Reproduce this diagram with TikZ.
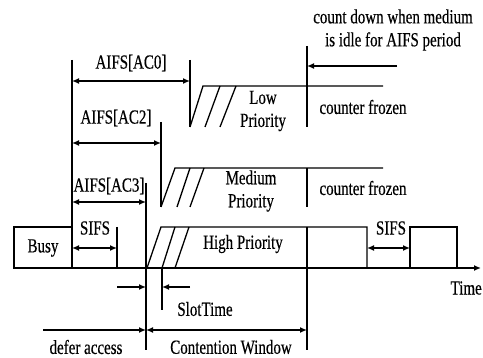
\documentclass[tikz,border=0pt]{standalone}
\usepackage{fontspec}
\setmainfont{Liberation Serif}[FakeStretch=0.75,FakeBold=0.4]
\usetikzlibrary{arrows.meta}
\begin{document}
\begin{tikzpicture}[x=1pt,y=-1pt,line width=1.3pt,
  lbl/.style={inner sep=0pt,font=\fontsize{20}{23}\selectfont,align=center},
  tip/.style={-{Latex[length=7pt,width=6pt]}},
  dtip/.style={{Latex[length=7pt,width=6pt]}-{Latex[length=7pt,width=6pt]}}]
\useasboundingbox (0,0) rectangle (483,358);
% coordinates
\coordinate (b0) at (14,268); \coordinate (bE) at (481,268);
\coordinate (vAt) at (72,60); \coordinate (vAb) at (72,268);
\coordinate (vBt) at (190,60); \coordinate (vBb) at (190,127);
\coordinate (vCt) at (161,122); \coordinate (vCb) at (161,207);
\coordinate (vDt) at (146,183); \coordinate (vDb) at (146,350);
\coordinate (sifsT) at (117,227); \coordinate (sifsB) at (117,268);
\coordinate (st1) at (162,268); \coordinate (st2) at (162,310);
% timeline
\draw[tip] (b0) -- (bE);
\node[lbl,anchor=west] (time) at (450,288) {Time};
% busy box
\draw (14,268) rectangle (72,227);
\node[lbl] (busy) at (43,248) {Busy};
% verticals
\draw (vAt) -- (vAb);
\draw (vBt) -- (vBb);
\draw (vCt) -- (vCb);
\draw (vDt) -- (vDb);
\draw (sifsT) -- (sifsB);
\draw (st1) -- (st2);
% AIFS arrows
\coordinate (a0l) at (72,81); \coordinate (a0r) at (190,81);
\draw[dtip] (a0l) -- (a0r);
\node[lbl] (ac0) at (131,63) {AIFS[AC0]};
\coordinate (a2l) at (72,143); \coordinate (a2r) at (161,143);
\draw[dtip] (a2l) -- (a2r);
\node[lbl] (ac2) at (116,118) {AIFS[AC2]};
\coordinate (a3l) at (72,202); \coordinate (a3r) at (146,202);
\draw[dtip] (a3l) -- (a3r);
\node[lbl] (ac3) at (109,186) {AIFS[AC3]};
\coordinate (s1l) at (72,248); \coordinate (s1r) at (117,248);
\draw[dtip] (s1l) -- (s1r);
\node[lbl] (sifs1) at (95,228) {SIFS};
% low priority
\draw (190,127) -- (203,86) -- (383,86);
\draw (205,127) -- (220,86);
\draw (220,127) -- (236,86);
\coordinate (lvt) at (307,46); \coordinate (lvb) at (307,127);
\draw (lvt) -- (lvb);
\coordinate (cdS) at (397,66); \coordinate (cdE) at (307,66);
\draw[tip] (cdS) -- (cdE);
\node[lbl] (count) at (393,30) {count down when medium\\is idle for AIFS period};
\node[lbl] (low) at (263,111) {Low\\Priority};
\node[lbl] (cf1) at (363,107) {counter frozen};
% medium priority
\draw (161,207) -- (175,168) -- (383,168);
\draw (177,207) -- (190,168);
\draw (190,207) -- (204,168);
\coordinate (mvt) at (307,168); \coordinate (mvb) at (307,207);
\draw (mvt) -- (mvb);
\node[lbl] (med) at (251,191) {Medium\\Priority};
\node[lbl] (cf2) at (363,188) {counter frozen};
% high priority
\draw (147,268) -- (161,227) -- (367,227) -- (367,268);
\draw (162,268) -- (175,227);
\draw (175,268) -- (189,227);
\coordinate (hvt) at (307,227); \coordinate (hvb) at (307,350);
\draw (hvt) -- (hvb);
\node[lbl] (high) at (243,244) {High Priority};
% second SIFS and box
\coordinate (s2l) at (367,248); \coordinate (s2r) at (410,248);
\draw[dtip] (s2l) -- (s2r);
\node[lbl] (sifs2) at (391,228) {SIFS};
\draw (410,268) -- (410,227) -- (457,227) -- (457,268);
% slot time
\coordinate (sl1) at (117,287); \coordinate (sl2) at (146,287);
\draw[tip] (sl1) -- (sl2);
\coordinate (sr1) at (190,287); \coordinate (sr2) at (162,287);
\draw[tip] (sr1) -- (sr2);
\node[lbl] (slot) at (205,309) {SlotTime};
% defer / contention
\coordinate (d1) at (43,330); \coordinate (d2) at (146,330);
\draw[tip] (d1) -- (d2);
\coordinate (c2) at (307,330);
\draw[dtip] (d2) -- (c2);
\node[lbl] (defer) at (86,347) {defer access};
\node[lbl] (cw) at (231,347) {Contention Window};
\end{tikzpicture}
\end{document}
